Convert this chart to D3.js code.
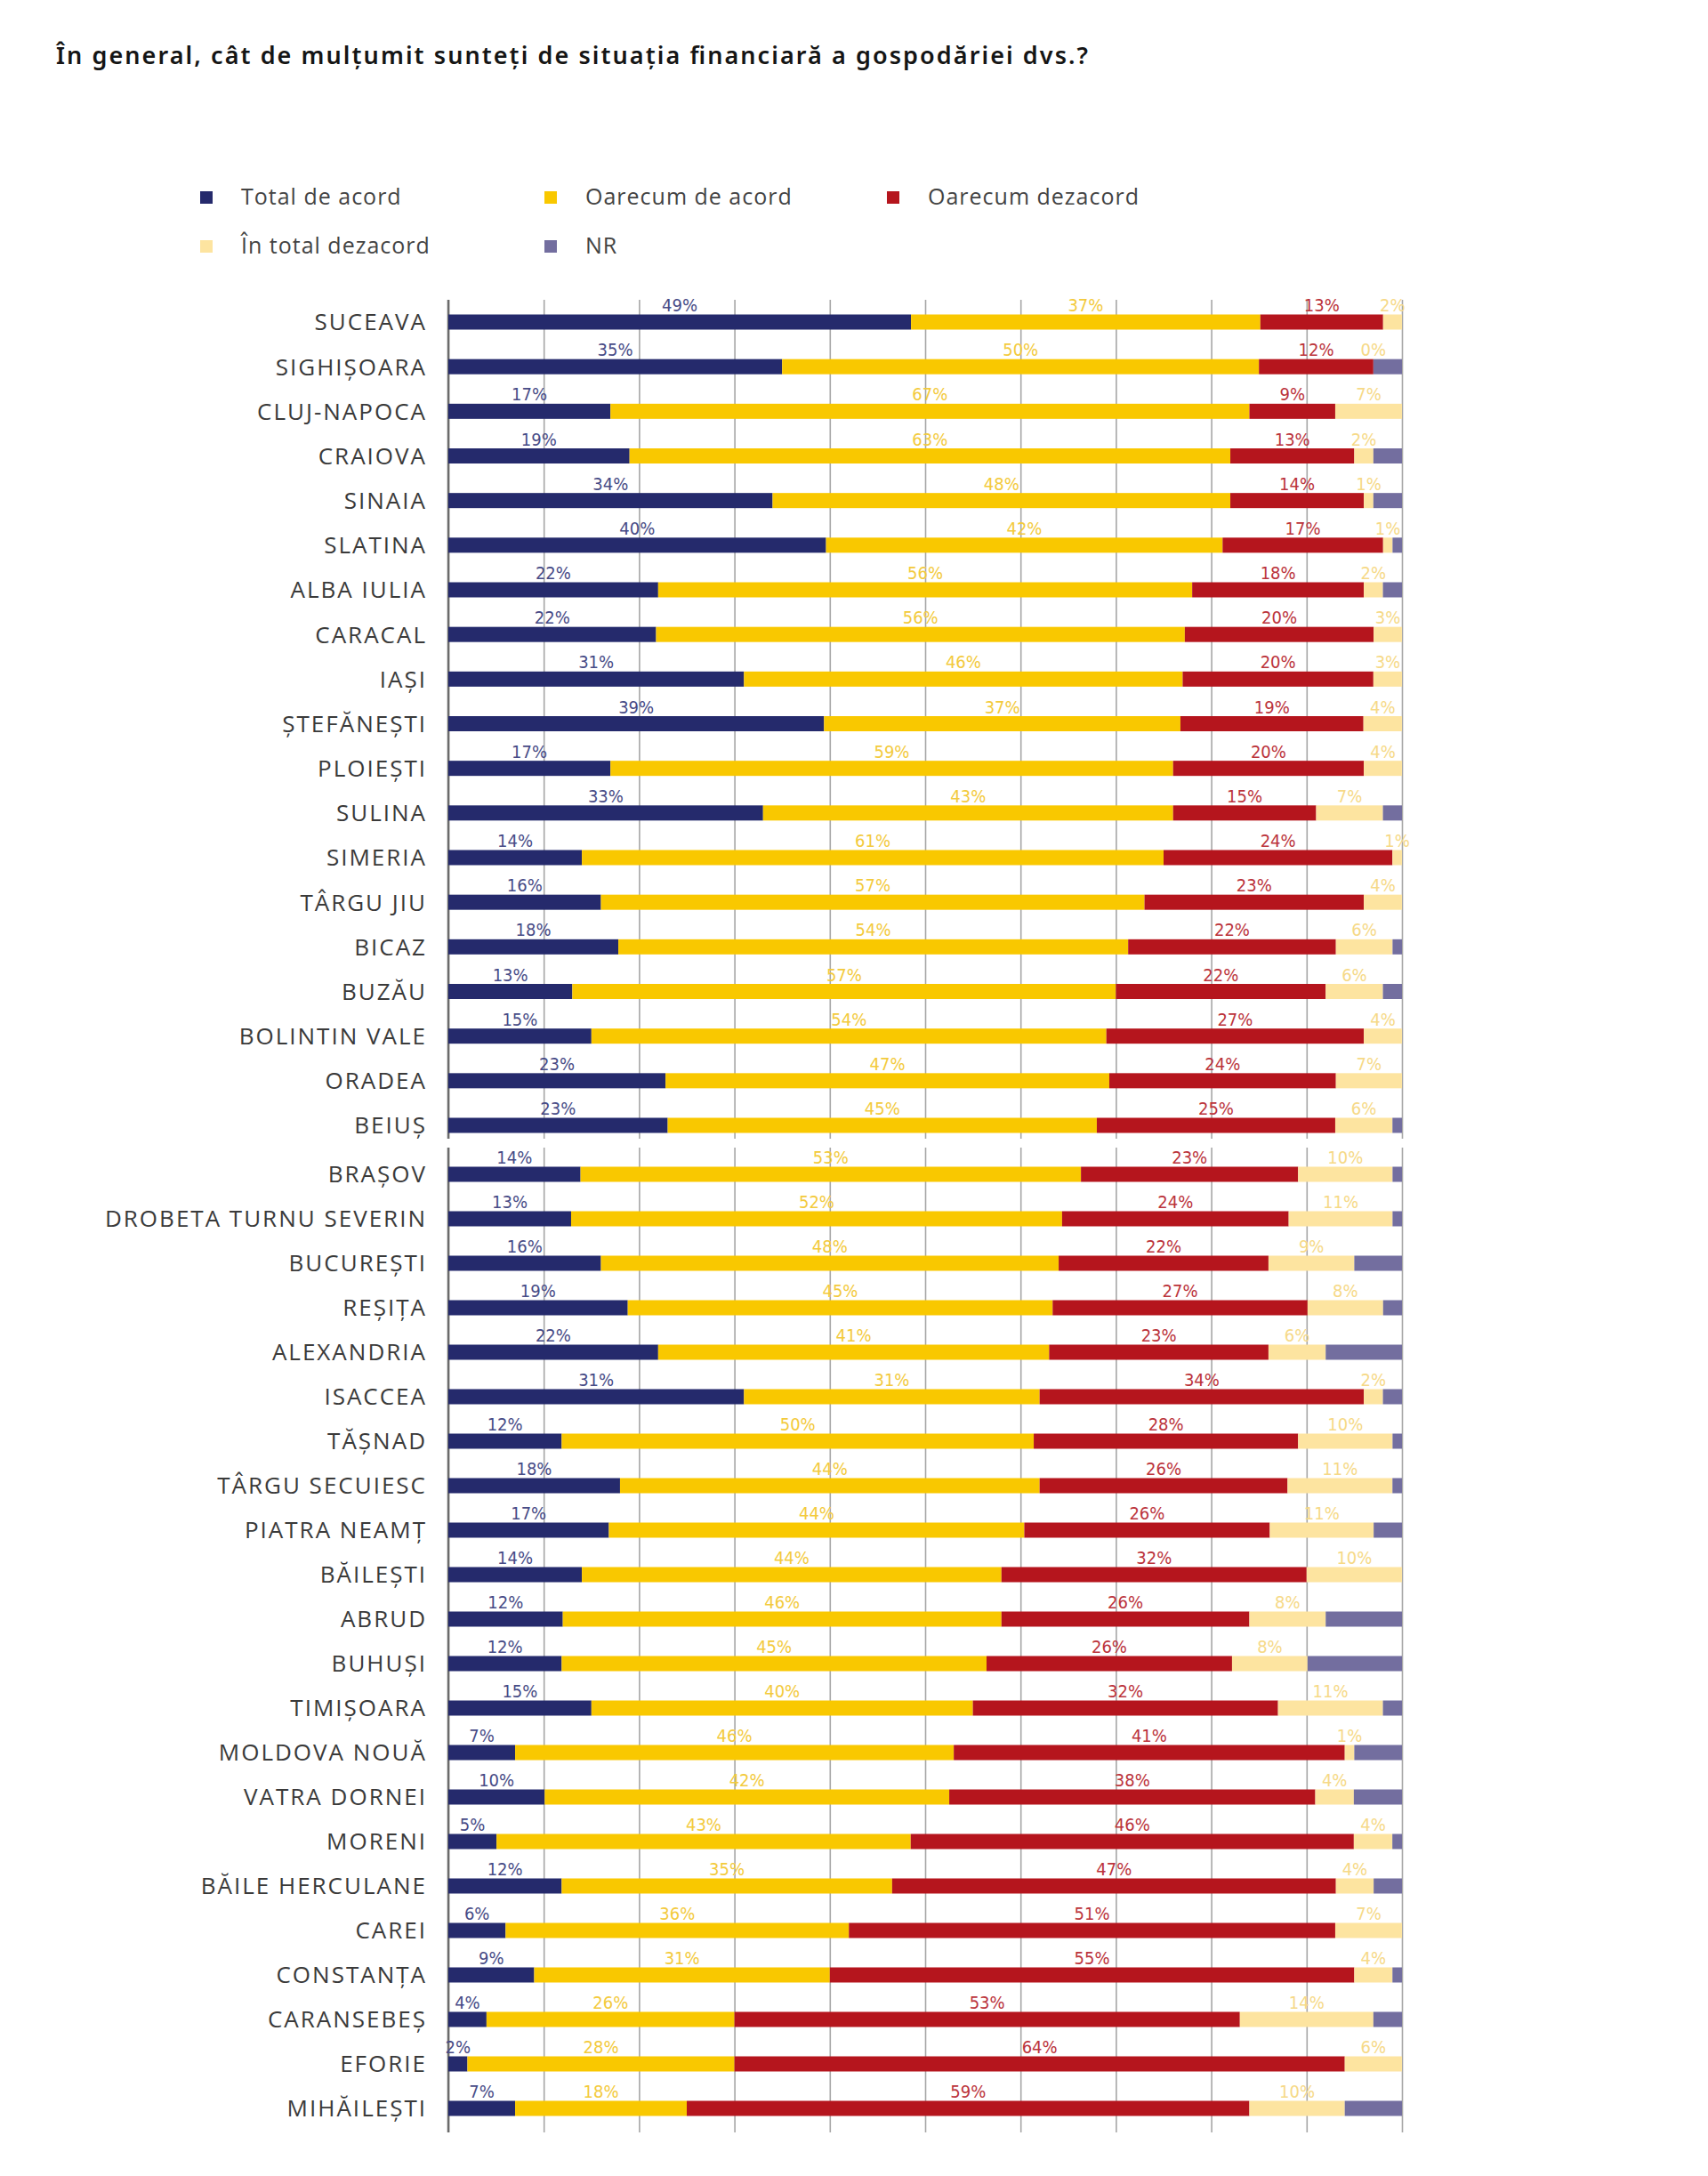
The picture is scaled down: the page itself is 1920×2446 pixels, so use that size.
<!DOCTYPE html>
<html>
<head>
<meta charset="utf-8">
<script src="https://cdn.jsdelivr.net/npm/d3@7"></script>
<style>
  body { margin: 0; background: #fff; }
  svg { display: block; }
</style>
</head>
<body>
<div id="chart"></div>
<script>
var width = 1920;
var height = 2446;

var title = 'În general, cât de mulțumit sunteți de situația financiară a gospodăriei dvs.?';

var cities = ['SUCEAVA', 'SIGHIȘOARA', 'CLUJ-NAPOCA', 'CRAIOVA', 'SINAIA', 'SLATINA', 'ALBA IULIA',
    'CARACAL', 'IAȘI', 'ȘTEFĂNEȘTI', 'PLOIEȘTI', 'SULINA', 'SIMERIA', 'TÂRGU JIU', 'BICAZ', 'BUZĂU',
    'BOLINTIN VALE', 'ORADEA', 'BEIUȘ',
    'BRAȘOV', 'DROBETA TURNU SEVERIN', 'BUCUREȘTI', 'REȘIȚA', 'ALEXANDRIA', 'ISACCEA', 'TĂȘNAD',
    'TÂRGU SECUIESC', 'PIATRA NEAMȚ', 'BĂILEȘTI', 'ABRUD', 'BUHUȘI', 'TIMIȘOARA', 'MOLDOVA NOUĂ',
    'VATRA DORNEI', 'MORENI', 'BĂILE HERCULANE', 'CAREI', 'CONSTANȚA', 'CARANSEBEȘ', 'EFORIE', 'MIHĂILEȘTI'];

var totalAcord = [49, 35, 17, 19, 34, 40, 22, 22, 31, 39, 17, 33, 14, 16, 18, 13, 15, 23, 23,
    14, 13, 16, 19, 22, 31, 12, 18, 17, 14, 12, 12, 15, 7, 10, 5, 12, 6, 9, 4, 2, 7];
var oarecumAcord = [37, 50, 67, 63, 48, 42, 56, 56, 46, 37, 59, 43, 61, 57, 54, 57, 54, 47, 45,
    53, 52, 48, 45, 41, 31, 50, 44, 44, 44, 46, 45, 40, 46, 42, 43, 35, 36, 31, 26, 28, 18];
var oarecumDezacord = [13, 12, 9, 13, 14, 17, 18, 20, 20, 19, 20, 15, 24, 23, 22, 22, 27, 24, 25,
    23, 24, 22, 27, 23, 34, 28, 26, 26, 32, 26, 26, 32, 41, 38, 46, 47, 51, 55, 53, 64, 59];
var totalDezacord = [2, 0, 7, 2, 1, 1, 2, 3, 3, 4, 4, 7, 1, 4, 6, 6, 4, 7, 6,
    10, 11, 9, 8, 6, 2, 10, 11, 11, 10, 8, 8, 11, 1, 4, 4, 4, 7, 4, 14, 6, 10];
var nr = [0, 3, 0, 3, 3, 1, 2, 0, 0, 0, 0, 2, 0, 0, 1, 2, 0, 0, 1,
    1, 1, 5, 2, 8, 2, 1, 1, 3, 0, 8, 10, 2, 5, 5, 1, 3, 0, 1, 3, 0, 6];

var seriesNames = ['Total de acord', 'Oarecum de acord', 'Oarecum dezacord', 'În total dezacord', 'NR'];
var seriesKeys = ['totalAcord', 'oarecumAcord', 'oarecumDezacord', 'totalDezacord', 'nr'];
var barColors = ['#252a6c', '#f9c800', '#b5151d', '#fde4a0', '#736e9f'];
var labelColors = ['#474b86', '#f3ca3c', '#bb333b', '#f6d987', null];

var firstPanelSize = 19;

var axisLeftX = 504;
var axisRightX = 1576;
var barHeight = 17;

var rows = cities.map(function (city, i) {
    return {
        city: city,
        totalAcord: totalAcord[i],
        oarecumAcord: oarecumAcord[i],
        oarecumDezacord: oarecumDezacord[i],
        totalDezacord: totalDezacord[i],
        nr: nr[i]
    };
});

var stacked = d3.stack().keys(seriesKeys).offset(d3.stackOffsetExpand)(rows);

var x = d3.scaleLinear().domain([0, 1]).range([axisLeftX, axisRightX]);

// two stitched panels, with a small break between them
var panels = [
    {cities: cities.slice(0, firstPanelSize), gridTop: 337, gridBottom: 1280, firstCenter: 362, lastCenter: 1265},
    {cities: cities.slice(firstPanelSize), gridTop: 1290, gridBottom: 2397, firstCenter: 1320, lastCenter: 2370}
];

var svg = d3.select('#chart').append('svg')
    .attr('width', width)
    .attr('height', height);

svg.append('text')
    .attr('x', 63)
    .attr('y', 72)
    .attr('font-family', '"Noto Sans", sans-serif')
    .attr('font-weight', 600)
    .attr('font-size', '27px')
    .attr('fill', '#151515')
    .attr('textLength', 1160)
    .attr('lengthAdjust', 'spacing')
    .text(title);

// Legend
var legendPos = [[225, 222], [612, 222], [997, 222], [225, 277], [612, 277]];
var legend = svg.append('g').attr('class', 'legend');
seriesNames.forEach(function (name, i) {
    var item = legend.append('g')
        .attr('transform', 'translate(' + legendPos[i][0] + ',' + legendPos[i][1] + ')');
    item.append('rect')
        .attr('x', 0)
        .attr('y', -7)
        .attr('width', 14)
        .attr('height', 14)
        .attr('fill', barColors[i]);
    item.append('text')
        .attr('x', 46)
        .attr('y', 8)
        .attr('font-family', '"Open Sans", sans-serif')
        .attr('font-size', '25px')
        .attr('letter-spacing', '1px')
        .attr('fill', '#444')
        .text(name);
});

panels.forEach(function (panel) {
    var n = panel.cities.length;
    var step = (panel.lastCenter - panel.firstCenter) / (n - 1);
    var y = d3.scaleBand()
        .domain(panel.cities)
        .range([panel.firstCenter - step / 2, panel.lastCenter + step / 2])
        .padding(0);

    var g = svg.append('g');

    // grid
    var grid = g.append('g')
        .attr('transform', 'translate(0,' + panel.gridTop + ')')
        .call(d3.axisBottom(x).ticks(10).tickSize(panel.gridBottom - panel.gridTop).tickFormat(''));
    grid.select('.domain').remove();
    grid.selectAll('.tick line')
        .attr('stroke', '#a6a6a6')
        .attr('stroke-width', 1.6);

    // city labels
    var yAxis = g.append('g')
        .attr('transform', 'translate(' + axisLeftX + ',0)')
        .call(d3.axisLeft(y).tickSize(0).tickPadding(24));
    yAxis.select('.domain').remove();
    yAxis.selectAll('text')
        .attr('font-family', '"Open Sans", sans-serif')
        .attr('font-size', '26px')
        .attr('letter-spacing', '2px')
        .attr('fill', '#3a3a3a')
        .attr('dy', '0.36em');

    g.append('line')
        .attr('x1', axisLeftX)
        .attr('x2', axisLeftX)
        .attr('y1', panel.gridTop)
        .attr('y2', panel.gridBottom)
        .attr('stroke', '#6b6b6b')
        .attr('stroke-width', 2.5);

    stacked.forEach(function (layer, si) {
        var data = layer.filter(function (d) { return panel.cities.indexOf(d.data.city) !== -1; });

        g.append('g').selectAll('rect')
            .data(data)
            .enter()
            .append('rect')
            .attr('x', function (d) { return x(d[0]); })
            .attr('y', function (d) { return y(d.data.city) + y.bandwidth() / 2 - barHeight / 2; })
            .attr('width', function (d) { return Math.max(0, x(d[1]) - x(d[0])); })
            .attr('height', barHeight)
            .attr('fill', barColors[si]);

        if (labelColors[si] === null) {
            return;
        }

        g.append('g').selectAll('text')
            .data(data)
            .enter()
            .append('text')
            .attr('x', function (d) { return (x(d[0]) + x(d[1])) / 2; })
            .attr('y', function (d) { return y(d.data.city) + y.bandwidth() / 2 - 12; })
            .attr('text-anchor', 'middle')
            .attr('font-family', '"Liberation Sans Narrow", "DejaVu Sans Condensed", sans-serif')
            .attr('font-size', '20px')
            .attr('fill', labelColors[si])
            .text(function (d) { return d.data[seriesKeys[si]] + '%'; });
    });
});
</script>
</body>
</html>
